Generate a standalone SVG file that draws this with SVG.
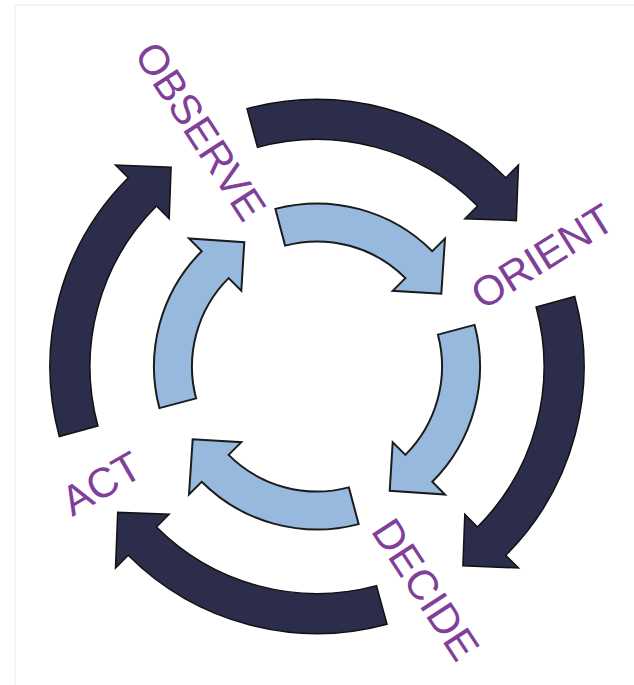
<svg xmlns="http://www.w3.org/2000/svg" xmlns:xlink="http://www.w3.org/1999/xlink" width="634" height="685" viewBox="0 0 634 685">
<style>
.dark{fill:#2b2d4a;stroke:#111;stroke-width:1.5;stroke-linejoin:miter}
.light{fill:#97b9dd;stroke:#1b1b1b;stroke-width:2;stroke-linejoin:miter}
.lbl{font-family:"Liberation Sans",Arial,sans-serif;font-size:42px;fill:#80409a;text-anchor:middle}
</style>
<defs>
<path id="outerArrow" d="M-70.0,-257.7 A267,267 0 0 1 188.8,-188.8 L201.5,-201.5 L199.3,-145.9 L147.8,-147.8 L160.5,-160.5 A227,227 0 0 0 -59.5,-219.1 Z"/>
<path id="innerArrow" d="M-41.6,-157.6 A163,163 0 0 1 115.3,-115.3 L128.0,-128.0 L124.3,-72.7 L75.7,-75.7 L88.4,-88.4 A125,125 0 0 0 -31.9,-120.9 Z"/>
</defs>
<rect x="0" y="0" width="634" height="685" fill="#fff"/>
<rect x="15" y="5" width="630" height="690" fill="none" stroke="#ececec" stroke-width="1"/>
<g id="connectors" transform="translate(317,366.5)">
<use xlink:href="#outerArrow" class="dark"/>
<use xlink:href="#outerArrow" class="dark" transform="rotate(90)"/>
<use xlink:href="#outerArrow" class="dark" transform="rotate(180)"/>
<use xlink:href="#outerArrow" class="dark" transform="rotate(270)"/>
<use xlink:href="#innerArrow" class="light"/>
<use xlink:href="#innerArrow" class="light" transform="rotate(90)"/>
<use xlink:href="#innerArrow" class="light" transform="rotate(180)"/>
<use xlink:href="#innerArrow" class="light" transform="rotate(270)"/>
</g>
<g id="observe" transform="translate(201,131) rotate(57)"><text class="lbl" x="0" y="15">OBSERVE</text></g>
<g id="orient" transform="translate(542,256) rotate(-32)"><text class="lbl" x="0" y="15">ORIENT</text></g>
<g id="decide" transform="translate(426,589) rotate(57)"><text class="lbl" x="0" y="15">DECIDE</text></g>
<g id="act" transform="translate(101,483) rotate(-30)"><text class="lbl" x="0" y="15">ACT</text></g>
</svg>
